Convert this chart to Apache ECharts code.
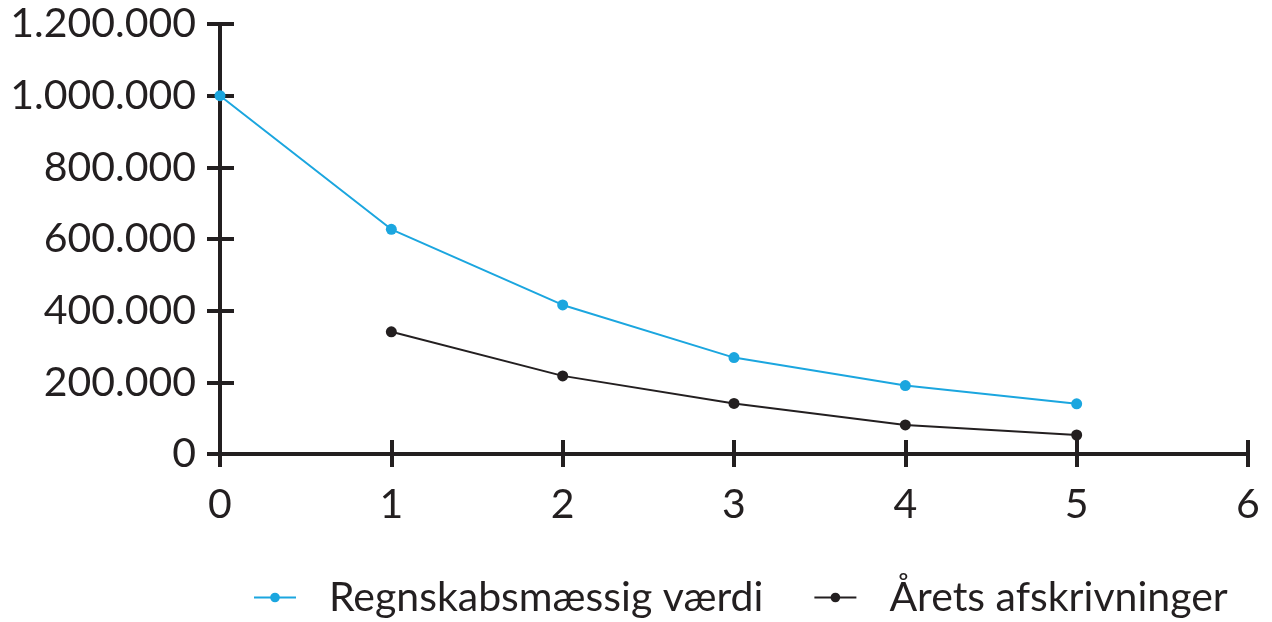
<!DOCTYPE html>
<html><head><meta charset="utf-8">
<script src="https://cdn.jsdelivr.net/npm/echarts@6/dist/echarts.min.js"></script>
<style>html,body{margin:0;padding:0;background:#fff}#c{width:1272px;height:622px}</style>
</head><body><div id="c"></div>
<script>
const years = [0, 1, 2, 3, 4, 5];
const regnskabsmaessigVaerdi = [1000000, 627000, 416000, 269000, 191000, 140000];
const aretsYears = [1, 2, 3, 4, 5];
const aretsAfskrivninger = [341000, 218000, 141000, 81000, 53000];
const seriesNames = ['Regnskabsmæssig værdi', 'Årets afskrivninger'];

const FONT = 'Lato';
const INK = '#231f20';
const BLUE = '#1ba6df';
function fmt(v){ return String(v).replace(/\B(?=(\d{3})+(?!\d))/g, '.'); }

const chart = echarts.init(document.getElementById('c'));
const baseX = {type:'value', min:0, max:6, interval:1, gridIndex:0};
const baseY = {type:'value', min:0, max:1200000, interval:200000, gridIndex:0};
chart.setOption({
  animation:false,
  grid:{left:220, right:24, top:24, bottom:168},
  legend:{
    left:248, top:572, itemWidth:42, itemHeight:12, itemGap:50,
    textStyle:{fontFamily:FONT, fontSize:41, color:INK, padding:[0,0,0,28]},
    data:seriesNames
  },
  xAxis:[
    Object.assign({}, baseX, {
      axisLine:{show:true, onZero:false, lineStyle:{color:INK, width:4}},
      axisTick:{show:true, inside:false, length:13, lineStyle:{color:INK, width:4}},
      axisLabel:{fontFamily:FONT, fontSize:41, color:INK, margin:30},
      splitLine:{show:false}
    }),
    Object.assign({}, baseX, {
      position:'bottom',
      axisLine:{show:false},
      axisTick:{show:true, inside:true, length:14, lineStyle:{color:INK, width:4}},
      axisLabel:{show:false},
      splitLine:{show:false}
    })
  ],
  yAxis:[
    Object.assign({}, baseY, {
      axisLine:{show:true, onZero:false, lineStyle:{color:INK, width:4}},
      axisTick:{show:true, inside:false, length:13, lineStyle:{color:INK, width:4}},
      axisLabel:{fontFamily:FONT, fontSize:41, color:INK, margin:24, formatter:fmt},
      splitLine:{show:false}
    }),
    Object.assign({}, baseY, {
      position:'left',
      axisLine:{show:false},
      axisTick:{show:true, inside:true, length:14, lineStyle:{color:INK, width:4}},
      axisLabel:{show:false},
      splitLine:{show:false}
    })
  ],
  series:[
    {name:seriesNames[0], type:'line', xAxisIndex:0, yAxisIndex:0,
     data:years.map((x,i)=>[x, regnskabsmaessigVaerdi[i]]),
     symbol:'circle', symbolSize:11, itemStyle:{color:BLUE},
     lineStyle:{color:BLUE, width:2}},
    {name:seriesNames[1], type:'line', xAxisIndex:0, yAxisIndex:0,
     data:aretsYears.map((x,i)=>[x, aretsAfskrivninger[i]]),
     symbol:'circle', symbolSize:11, itemStyle:{color:INK},
     lineStyle:{color:INK, width:2}}
  ]
});
</script></body></html>
